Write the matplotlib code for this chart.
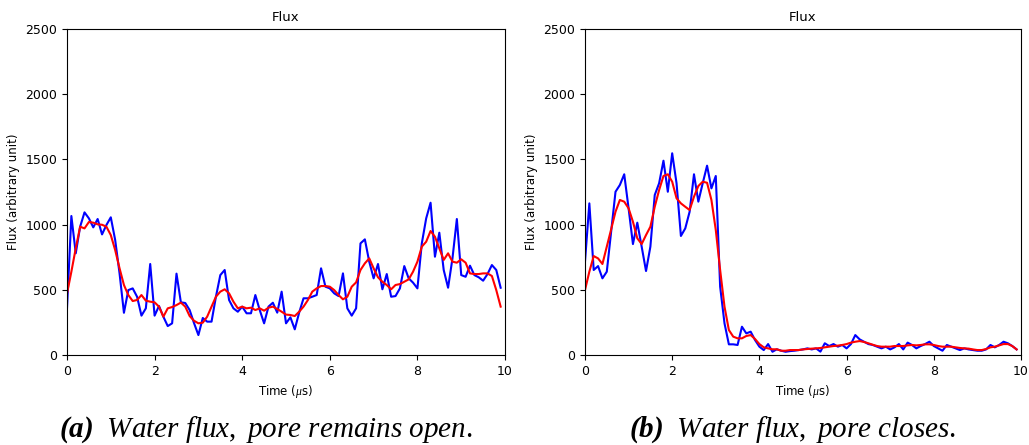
import numpy as np
import matplotlib
matplotlib.use("Agg")
import matplotlib.pyplot as plt

plt.rcParams['font.size'] = 9
# caption text set in a serif italic face
plt.rcParams['mathtext.fontset'] = 'custom'
plt.rcParams['mathtext.rm'] = 'Liberation Serif'
plt.rcParams['mathtext.it'] = 'Liberation Serif:italic'
plt.rcParams['mathtext.bf'] = 'Liberation Serif:bold:italic'

# time axis, 0.1 us steps
time = np.arange(100) / 10.0

# pore remains open
open_raw = [358, 1066, 780, 984, 1094, 1048, 979, 1043, 925, 997,
            1056, 882, 626, 324, 498, 511, 447, 302, 358, 698,
            302, 376, 294, 222, 243, 624, 404, 399, 345, 245,
            153, 284, 256, 256, 447, 613, 652, 422, 358, 332,
            371, 320, 320, 460, 345, 243, 371, 401, 325, 486,
            243, 289, 197, 325, 435, 435, 447, 460, 665, 524,
            511, 473, 452, 626, 358, 302, 358, 856, 887, 716,
            588, 698, 504, 621, 447, 452, 511, 682, 588, 555,
            511, 856, 1048, 1168, 754, 938, 652, 516, 741, 1043,
            613, 600, 685, 613, 596, 570, 621, 690, 652, 516]
open_smooth = [470, 639, 818, 984, 971, 1020, 1015, 1002, 999, 984,
               920, 805, 665, 537, 460, 414, 422, 460, 417, 409,
               404, 371, 294, 358, 368, 383, 402, 371, 299, 263,
               243, 248, 294, 371, 447, 486, 504, 473, 409, 358,
               371, 358, 363, 345, 358, 340, 363, 371, 353, 332,
               310, 307, 299, 332, 371, 422, 486, 511, 529, 529,
               524, 498, 460, 427, 447, 524, 557, 652, 703, 741,
               665, 596, 562, 537, 504, 537, 544, 562, 580, 639,
               716, 831, 869, 951, 907, 818, 729, 780, 716, 708,
               734, 708, 626, 621, 621, 626, 626, 606, 498, 371]

# pore closes
closed_raw = [716, 1163, 652, 682, 588, 639, 946, 1252, 1304, 1386,
              1125, 851, 1015, 831, 644, 831, 1227, 1317, 1490, 1252,
              1547, 1317, 913, 971, 1099, 1386, 1176, 1317, 1452, 1278,
              1373, 524, 243, 82, 82, 77, 217, 166, 179, 115,
              64, 38, 84, 25, 44, 33, 25, 30, 33, 38,
              43, 51, 43, 51, 26, 90, 69, 84, 64, 77,
              51, 84, 153, 120, 102, 84, 77, 64, 51, 64,
              43, 59, 84, 43, 95, 77, 51, 69, 84, 102,
              69, 51, 33, 77, 64, 51, 38, 51, 43, 38,
              33, 33, 43, 77, 59, 77, 102, 90, 69, 43]
closed_smooth = [498, 639, 759, 741, 698, 831, 964, 1099, 1189, 1176,
                 1125, 1022, 895, 851, 920, 984, 1137, 1265, 1373, 1386,
                 1329, 1202, 1163, 1137, 1112, 1214, 1296, 1329, 1321, 1189,
                 959, 652, 371, 192, 141, 128, 128, 146, 153, 123,
                 84, 59, 51, 44, 44, 33, 33, 38, 38, 38,
                 43, 46, 49, 51, 54, 59, 64, 69, 72, 77,
                 84, 95, 102, 107, 100, 90, 79, 69, 64, 64,
                 64, 69, 69, 69, 74, 77, 74, 77, 82, 82,
                 77, 69, 64, 64, 64, 59, 54, 51, 49, 43,
                 38, 38, 46, 59, 64, 74, 84, 84, 69, 43]

captions = [r'$\mathbf{(a)}\ \ \mathit{Water\ flux,\ pore\ remains\ open.}$',
            r'$\mathbf{(b)}\ \ \mathit{Water\ flux,\ pore\ closes.}$']

fig = plt.figure(figsize=(10.29, 4.45), dpi=100)
ax1 = fig.add_axes([0.0651, 0.2022, 0.4257, 0.7326])
ax2 = fig.add_axes([0.5685, 0.2022, 0.4237, 0.7326])

for ax, raw, smooth in [(ax1, open_raw, open_smooth), (ax2, closed_raw, closed_smooth)]:
    ax.plot(time, raw, color='blue', lw=1.5)
    ax.plot(time, smooth, color='red', lw=1.5)
    ax.set_xlim(0, 10)
    ax.set_ylim(0, 2500)
    ax.set_title('Flux', fontsize=9.5)
    ax.set_xlabel(r'Time ($\mu$s)', fontsize=8.5)
    ax.set_ylabel('Flux (arbitrary unit)', fontsize=8.5)

fig.text(266 / 1029, 0.034, captions[0], fontsize=21, ha='center', va='center')
fig.text(793 / 1029, 0.034, captions[1], fontsize=21, ha='center', va='center')

fig.savefig('out.png', dpi=100)
